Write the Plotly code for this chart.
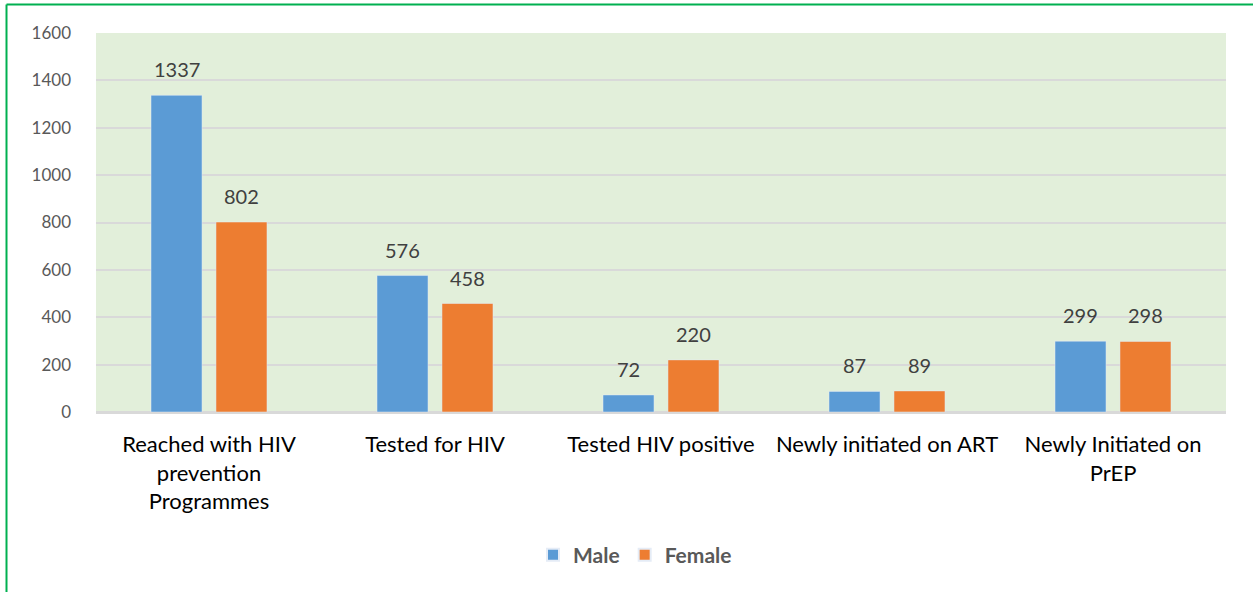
import plotly.graph_objects as go

categories = ["Reached with HIV<br>prevention<br>Programmes", "Tested for HIV",
              "Tested HIV positive", "Newly initiated on ART", "Newly Initiated on<br>PrEP"]
male = [1337, 576, 72, 87, 299]
female = [802, 458, 220, 89, 298]
y_ticks = [0, 200, 400, 600, 800, 1000, 1200, 1400, 1600]

FONT = "Lato"
fig = go.Figure()
fig.add_trace(go.Bar(name="Male", x=categories, y=male, marker_color="#5B9BD5"))
fig.add_trace(go.Bar(name="Female", x=categories, y=female, marker_color="#ED7D31"))

W, H = 1253, 592
L, R, T, B = 96, 27, 33, 180
pw, ph = W - L - R, H - T - B

def px(x):
    return (x - L) / pw

def py(y):
    return (H - B - y) / ph

annotations = []
for vals, shift in ((male, -32.5), (female, 32.5)):
    for c, v in zip(categories, vals):
        annotations.append(dict(x=c, y=v, xref="x", yref="y", text=str(v), showarrow=False,
                                xshift=shift, yshift=26, yanchor="middle",
                                font=dict(size=20, color="#404040", family=FONT)))

fig.update_layout(
    width=W, height=H,
    margin=dict(l=L, r=R, t=T, b=B),
    paper_bgcolor="white", plot_bgcolor="#E2EFDA",
    barmode="group", bargap=0.425, bargroupgap=0.215,
    font=dict(family=FONT, size=19, color="#595959"),
    showlegend=True,
    legend=dict(orientation="h", x=px(635), xanchor="center", y=py(555), yanchor="middle",
                font=dict(size=21, color="#595959", family=FONT, weight="bold"),
                itemsizing="constant", traceorder="normal", itemwidth=30),
    xaxis=dict(showgrid=False, showline=True, linecolor="#D9D9D9", linewidth=1.5,
               tickfont=dict(size=22, color="#000000", family=FONT),
               ticks="", ticklabelstandoff=12),
    yaxis=dict(range=[0, 1600], tickvals=y_ticks, showgrid=True, gridcolor="#D9D9D9",
               gridwidth=1.5, zeroline=True, zerolinecolor="#D9D9D9", zerolinewidth=1.5,
               tickfont=dict(size=17, color="#595959", family=FONT),
               ticklabelstandoff=24),
    annotations=annotations,
    shapes=[
        dict(type="line", xref="paper", yref="paper", x0=px(6.5), x1=px(6.5), y0=py(4.5), y1=py(600),
             line=dict(color="#00B050", width=2)),
        dict(type="line", xref="paper", yref="paper", x0=px(6.5), x1=px(1260), y0=py(4.5), y1=py(4.5),
             line=dict(color="#00B050", width=2)),
    ],
)
fig.write_html("out.html", config={"displayModeBar": False},
               post_script="document.body.style.margin='0';document.body.style.overflow='hidden';")
